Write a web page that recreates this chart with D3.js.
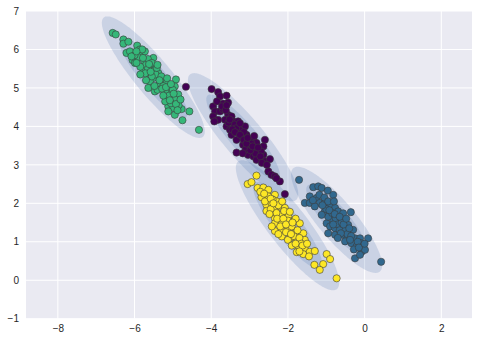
<!DOCTYPE html>
<html>
<head>
<meta charset="utf-8">
<script src="https://cdn.jsdelivr.net/npm/d3@7"></script>
<style>
html,body{margin:0;padding:0;background:#fff;}
svg{display:block;}
</style>
</head>
<body>
<svg id="chart" width="479" height="341"></svg>
<script>
// ---- data ----
const xTicks = [-8, -6, -4, -2, 0, 2];
const yTicks = [-1, 0, 1, 2, 3, 4, 5, 6, 7];
const clusterColors = ["#440154", "#31688e", "#35b779", "#fde725"];

// cluster 2 (green)
const greenPts = [
[-6.57,6.43],[-6.49,6.39],[-6.29,6.26],[-6.29,6.15],[-6.16,6.20],[-6.21,5.91],[-6.12,5.95],
[-5.93,6.10],[-5.86,6.00],[-6.05,5.72],[-5.99,5.65],[-5.81,5.87],[-5.73,5.95],[-5.51,5.78],
[-5.60,5.56],[-5.77,5.48],[-5.64,5.39],[-5.38,5.39],[-5.51,5.26],[-5.29,5.22],[-5.60,5.17],
[-4.92,5.22],[-5.64,5.00],[-5.47,4.91],[-5.34,5.00],[-5.16,5.13],[-5.08,4.91],[-4.95,5.04],
[-4.86,4.83],[-5.16,4.74],[-5.03,4.74],[-4.90,4.65],[-5.12,4.52],[-4.99,4.48],[-5.12,4.39],
[-4.77,4.45],[-4.57,4.39],[-4.95,4.30],[-4.75,4.16],[-4.32,3.91],
[-5.90,5.80],[-5.75,5.70],[-5.70,5.60],[-5.65,5.75],[-5.55,5.65],[-5.85,5.55],[-5.50,5.45],
[-5.45,5.35],[-5.55,5.30],[-5.70,5.20],[-5.35,5.10],[-5.25,5.05],[-5.40,4.95],[-5.20,4.90],
[-5.10,4.80],[-5.00,4.95],[-4.95,4.70],[-5.05,4.60],[-5.20,4.65],[-4.85,4.55],[-6.00,5.85],
[-5.80,6.00],[-5.65,5.50],[-5.95,5.65],[-5.30,5.30],[-5.15,5.25],
[-6.08,5.82],[-5.95,5.95],[-5.78,5.78],[-5.62,5.62],[-5.72,5.38],[-5.58,5.42],[-5.42,5.52],
[-5.35,5.20],[-5.48,5.05],[-5.28,4.98],[-5.18,5.02],[-5.05,5.10],[-4.98,4.85],[-5.08,4.68],
[-4.92,4.58],[-4.80,4.70],[-5.25,4.80],[-4.88,4.42],[-5.85,5.35],[-5.40,5.60]
];
// cluster 0 (purple)
const purplePts = [
[-4.66,5.03],[-3.99,4.97],[-3.82,4.89],[-3.77,4.78],[-3.60,4.80],[-3.69,4.59],[-3.56,4.62],
[-3.95,4.52],[-3.90,4.39],[-3.77,4.39],[-3.95,4.26],[-3.82,4.17],[-3.92,4.13],[-3.56,4.30],
[-3.47,4.26],[-3.64,4.17],[-3.43,4.13],[-3.30,4.13],[-3.60,4.00],[-3.51,3.91],[-3.38,4.00],
[-3.21,3.96],[-3.12,4.00],[-3.47,3.78],[-3.30,3.83],[-3.21,3.70],[-3.08,3.78],[-3.34,3.65],
[-3.17,3.52],[-3.04,3.61],[-2.90,3.65],[-2.82,3.57],[-2.60,3.65],[-3.34,3.32],[-2.99,3.44],
[-2.86,3.39],[-2.73,3.44],[-2.64,3.48],[-3.04,3.26],[-2.90,3.22],[-2.77,3.31],[-2.64,3.26],
[-2.82,3.13],[-2.60,3.09],[-2.47,3.15],[-2.51,2.83],[-2.43,2.74],[-2.34,2.70],[-2.21,2.57],
[-2.30,2.65],[-2.08,2.24],
[-3.70,4.45],[-3.40,4.05],[-3.25,3.90],[-3.15,3.85],[-3.00,3.50],[-2.95,3.55],[-2.70,3.35],
[-3.55,4.10],[-3.10,3.40],[-2.85,3.30],[-3.35,3.95],
[-3.85,4.65],[-3.72,4.52],[-3.62,4.42],[-3.52,4.18],[-3.45,3.92],[-3.38,3.85],[-3.25,3.78],
[-3.15,3.65],[-3.08,3.55],[-2.98,3.38],[-2.92,3.48],[-2.78,3.45],[-2.72,3.22],[-2.68,3.05],
[-2.55,3.00],[-3.18,3.30],[-3.05,3.70],[-2.88,3.75],[-3.60,4.55],[-3.25,4.08]
];
// cluster 3 (yellow)
const yellowPts = [
[-2.82,2.72],[-3.05,2.50],[-2.95,2.55],[-2.79,2.40],[-2.64,2.41],[-2.51,2.35],[-2.69,2.16],
[-2.51,2.18],[-2.34,2.22],[-2.56,1.96],[-2.43,2.01],[-2.29,2.05],[-2.56,1.80],[-2.34,1.88],
[-2.21,1.92],[-2.08,1.88],[-2.34,1.61],[-2.16,1.70],[-1.99,1.66],[-2.34,1.48],[-2.16,1.48],
[-1.95,1.53],[-1.69,1.48],[-2.34,1.28],[-2.16,1.31],[-1.99,1.35],[-1.82,1.22],[-1.60,1.22],
[-2.16,1.14],[-1.95,1.09],[-1.77,1.01],[-1.56,1.05],[-1.73,0.88],[-1.56,0.83],[-1.77,0.73],
[-1.60,0.68],[-1.43,0.74],[-1.30,0.76],[-0.99,0.68],[-0.90,0.55],[-1.31,0.40],[-1.08,0.42],
[-1.17,0.27],[-0.73,0.05],
[-2.40,2.10],[-2.25,1.95],[-2.30,1.75],[-2.10,1.80],[-2.00,1.55],[-2.20,1.40],[-2.05,1.25],
[-1.90,1.40],[-1.85,1.15],[-2.00,1.05],[-1.70,1.10],[-1.65,0.95],[-1.90,0.90],[-2.45,1.85],
[-2.60,2.05],[-1.80,1.60],
[-2.72,2.30],[-2.62,2.25],[-2.45,2.12],[-2.38,2.00],[-2.48,1.72],[-2.28,1.60],[-2.12,1.60],
[-2.05,1.45],[-1.88,1.50],[-2.25,1.20],[-1.92,1.20],[-1.75,1.30],[-1.80,0.95],[-1.62,0.90],
[-1.50,0.95],[-1.95,1.78],[-2.15,2.05],[-1.70,0.75],[-1.45,0.62],[-2.42,1.40]
];
// cluster 1 (blue)
const bluePts = [
[-1.71,2.61],[-1.34,2.42],[-1.21,2.44],[-1.12,2.40],[-0.96,2.33],[-0.82,2.22],[-1.43,2.18],
[-1.25,2.14],[-1.17,2.01],[-1.56,2.01],[-1.43,2.01],[-1.30,1.92],[-1.04,2.01],[-0.90,1.92],
[-0.77,1.88],[-1.04,1.79],[-0.86,1.74],[-0.69,1.79],[-0.56,1.74],[-0.36,1.77],[-0.99,1.48],
[-0.82,1.57],[-0.69,1.57],[-0.56,1.57],[-0.90,1.40],[-0.77,1.35],[-0.60,1.40],[-0.43,1.44],
[-0.30,1.31],[-0.95,1.22],[-0.77,1.18],[-0.56,1.18],[-0.47,1.05],[-0.25,1.09],[-0.12,1.09],
[-0.51,1.01],[-0.34,0.96],[-0.21,0.88],[-0.08,0.96],[0.09,1.09],[-0.08,0.74],[0.01,0.79],
[-0.25,0.57],[-0.12,0.66],[0.43,0.48],
[-1.00,1.85],[-0.95,1.65],[-0.75,1.60],[-0.70,1.45],[-0.65,1.30],[-0.50,1.30],[-0.45,1.20],
[-0.35,1.15],[-0.85,1.75],[-1.10,1.95],[-0.60,1.50],
[-1.35,2.08],[-1.18,2.22],[-1.05,2.15],[-0.95,2.05],[-0.80,2.05],[-0.92,1.82],[-0.78,1.72],
[-0.65,1.65],[-0.55,1.45],[-0.40,1.35],[-0.62,1.22],[-0.38,1.05],[-0.18,1.00],[-0.28,0.80],
[-0.15,0.85],[0.00,0.95],[-0.82,1.45],[-0.70,1.10],[-1.12,1.70],[-0.48,1.60]
];

// GMM components: mean, 1-sigma semi-axes, angle (deg, data space), weight
const compMeans = [[-3.17,3.72],[-0.73,1.57],[-5.51,5.28],[-2.01,1.43]];
const compSdMajor = [0.713, 0.585, 0.673, 0.70];
const compSdMinor = [0.172, 0.162, 0.157, 0.172];
const compAngle = [-49.7, -50.0, -50.2, -52.3];
const compWeight = [1.0, 1.0, 1.0, 1.0];

// ---- layout ----
const svg = d3.select("#chart");
const mLeft = 26, mRight = 472, mTop = 11, mBottom = 318.7;
const x = d3.scaleLinear().domain([-8.83, 2.80]).range([mLeft, mRight]);
const y = d3.scaleLinear().domain([-1, 7]).range([mBottom, mTop]);

svg.append("rect").attr("x", mLeft).attr("y", mTop)
  .attr("width", mRight-mLeft).attr("height", mBottom-mTop).attr("fill", "#EAEAF2");

// grid
const grid = svg.append("g");
grid.selectAll(".gx").data(xTicks).join("line")
  .attr("x1", d=>x(d)).attr("x2", d=>x(d)).attr("y1", mTop).attr("y2", mBottom)
  .attr("stroke", "#fff").attr("stroke-width", 1);
grid.selectAll(".gy").data(yTicks).join("line")
  .attr("x1", mLeft).attr("x2", mRight).attr("y1", d=>y(d)).attr("y2", d=>y(d))
  .attr("stroke", "#fff").attr("stroke-width", 1);

// axes (labels only)
const fmt = d => d < 0 ? "\u2212" + Math.abs(d) : String(d);
const xAxis = svg.append("g").attr("transform", `translate(0,${mBottom})`)
  .call(d3.axisBottom(x).tickValues(xTicks).tickFormat(fmt).tickSize(0).tickPadding(6));
const yAxis = svg.append("g").attr("transform", `translate(${mLeft},0)`)
  .call(d3.axisLeft(y).tickValues(yTicks).tickFormat(fmt).tickSize(0).tickPadding(7));
[xAxis, yAxis].forEach(a => {
  a.select(".domain").remove();
  a.selectAll("text").attr("font-family", "'Liberation Sans', Arial, sans-serif")
    .attr("font-size", 10).attr("fill", "#262626");
});

// clip
svg.append("clipPath").attr("id", "clip").append("rect")
  .attr("x", mLeft).attr("y", mTop).attr("width", mRight-mLeft).attr("height", mBottom-mTop);
const plot = svg.append("g").attr("clip-path", "url(#clip)");

// ellipses
const wmax = d3.max(compWeight);
const line = d3.line().x(d=>x(d[0])).y(d=>y(d[1])).curve(d3.curveLinearClosed);
compMeans.forEach((m, i) => {
  const a = compAngle[i] * Math.PI / 180;
  for (let nsig = 1; nsig < 4; nsig++) {
    const A = nsig * compSdMajor[i], B = nsig * compSdMinor[i];
    const pts = d3.range(0, 360, 2).map(t => {
      const r = t * Math.PI / 180;
      const ex = A * Math.cos(r), ey = B * Math.sin(r);
      return [m[0] + ex*Math.cos(a) - ey*Math.sin(a), m[1] + ex*Math.sin(a) + ey*Math.cos(a)];
    });
    plot.append("path").attr("d", line(pts))
      .attr("fill", "#4C72B0").attr("fill-opacity", 0.2 * compWeight[i] / wmax);
  }
});

// points
const groups = [
  {pts: purplePts, c: clusterColors[0]},
  {pts: greenPts, c: clusterColors[2]},
  {pts: bluePts, c: clusterColors[1]},
  {pts: yellowPts, c: clusterColors[3]}
];
groups.forEach(g => {
  plot.append("g").selectAll("circle").data(g.pts).join("circle")
    .attr("cx", d=>x(d[0])).attr("cy", d=>y(d[1])).attr("r", 3.6)
    .attr("fill", g.c).attr("stroke", "#3a3a3a").attr("stroke-width", 0.6);
});
</script>
</body>
</html>
